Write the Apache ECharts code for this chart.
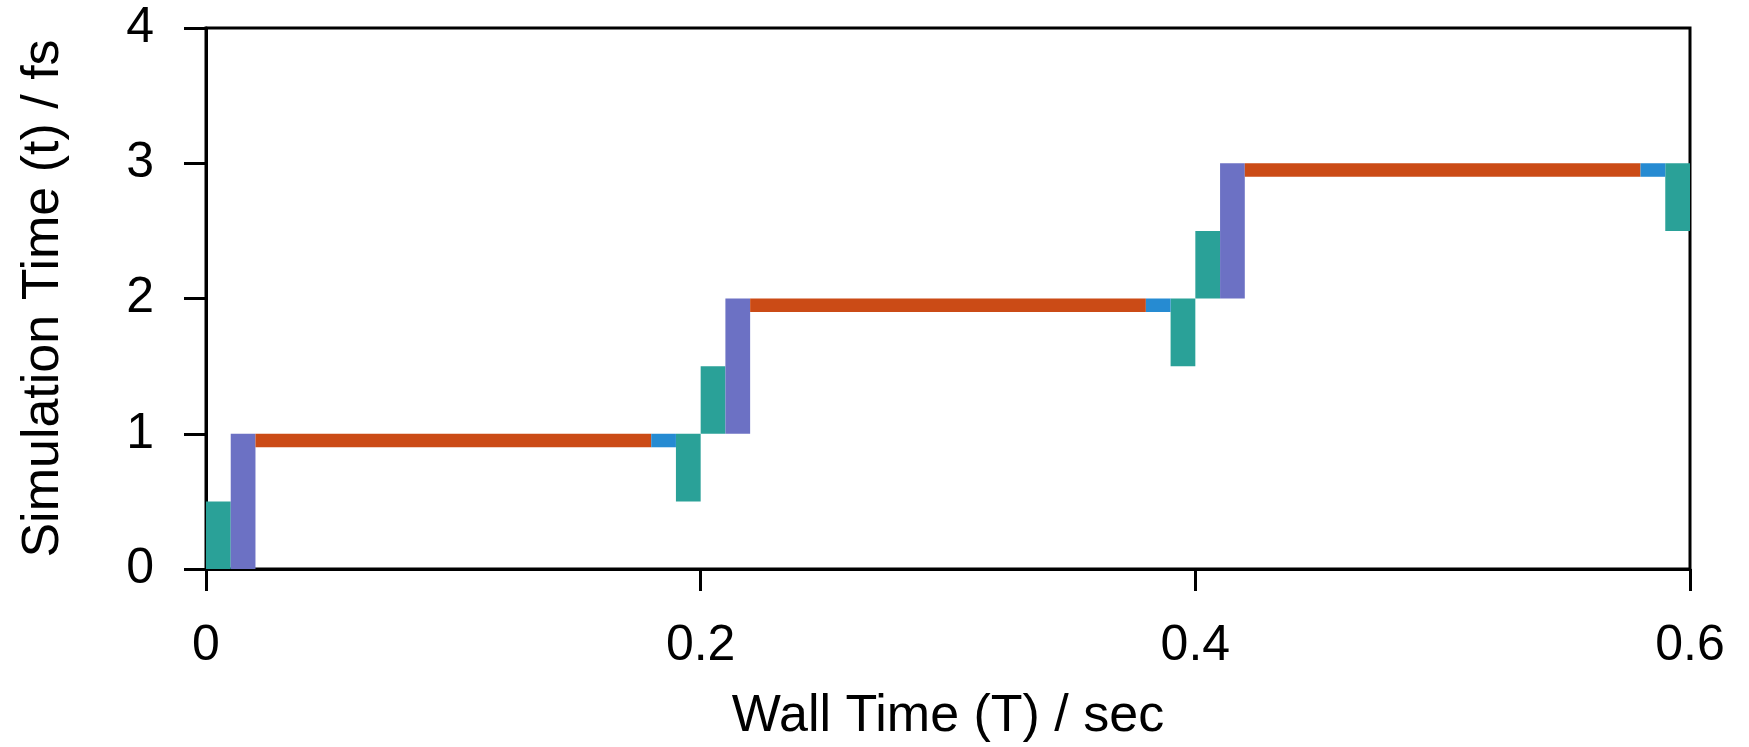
<!DOCTYPE html>
<html>
<head>
<meta charset="utf-8">
<script src="https://cdn.jsdelivr.net/npm/echarts@6/dist/echarts.min.js"></script>
<style>html,body{margin:0;padding:0;background:#fff}#c{width:1749px;height:747px}</style>
</head>
<body>
<div id="c"></div>
<script>
// Each segment: [wallStart, wallEnd, simLow, simHigh]
const tealSegs = [[0,0.01,0,0.5],[0.19,0.2,0.5,1],[0.2,0.21,1,1.5],[0.39,0.4,1.5,2],[0.4,0.41,2,2.5],[0.59,0.6,2.5,3]];
const violetSegs = [[0.01,0.02,0,1],[0.21,0.22,1,2],[0.41,0.42,2,3]];
const orangeSegs = [[0.02,0.18,0.9,1],[0.22,0.38,1.9,2],[0.42,0.58,2.9,3]];
const blueSegs = [[0.18,0.19,0.9,1],[0.38,0.39,1.9,2],[0.58,0.59,2.9,3]];
const xTicks = [0, 0.2, 0.4, 0.6];
const yTicks = [0, 1, 2, 3, 4];
const xTitle = 'Wall Time (T) / sec';
const yTitle = 'Simulation Time (t) / fs';

const FONT = '"Liberation Sans", Arial, sans-serif';

function rectSeries(name, data, color) {
  return {
    type: 'custom', name: name, data: data,
    encode: {x: [0, 1], y: [2, 3]},
    renderItem: function (params, api) {
      const p0 = api.coord([api.value(0), api.value(3)]);
      const p1 = api.coord([api.value(1), api.value(2)]);
      return {
        type: 'rect',
        shape: {x: p0[0], y: p0[1], width: p1[0] - p0[0], height: p1[1] - p0[1]},
        style: {fill: color}
      };
    },
    z: 2
  };
}

const chart = echarts.init(document.getElementById('c'), null, {renderer: 'canvas'});
chart.setOption({
  animation: false,
  backgroundColor: '#fff',
  grid: {left: 206, right: 59, top: 28, bottom: 178, containLabel: false, outerBoundsMode: 'none',
    show: true, borderColor: '#000', borderWidth: 3, backgroundColor: 'transparent'},
  xAxis: {
    type: 'value', min: xTicks[0], max: xTicks[xTicks.length - 1], interval: 0.2,
    name: xTitle, nameLocation: 'middle', nameGap: 122,
    nameTextStyle: {fontFamily: FONT, fontSize: 52, color: '#000'},
    axisLine: {show: true, lineStyle: {color: '#000', width: 3}},
    axisTick: {show: true, inside: false, length: 22, lineStyle: {color: '#000', width: 3}},
    axisLabel: {fontFamily: FONT, fontSize: 50, color: '#000', margin: 52,
      formatter: v => (Math.round(v * 10) / 10).toString()},
    splitLine: {show: false}
  },
  yAxis: {
    type: 'value', min: yTicks[0], max: yTicks[yTicks.length - 1], interval: 1,
    name: yTitle, nameLocation: 'middle', nameGap: 136,
    nameTextStyle: {fontFamily: FONT, fontSize: 52, color: '#000'},
    axisLine: {show: true, lineStyle: {color: '#000', width: 3}},
    axisTick: {show: true, inside: false, length: 22, lineStyle: {color: '#000', width: 3}},
    axisLabel: {fontFamily: FONT, fontSize: 50, color: '#000', margin: 52},
    splitLine: {show: false}
  },
  series: [
    rectSeries('teal', tealSegs, '#2AA198'),
    rectSeries('violet', violetSegs, '#6C71C4'),
    rectSeries('orange', orangeSegs, '#CB4B16'),
    rectSeries('blue', blueSegs, '#268BD2')
  ]
});
</script>
</body>
</html>
